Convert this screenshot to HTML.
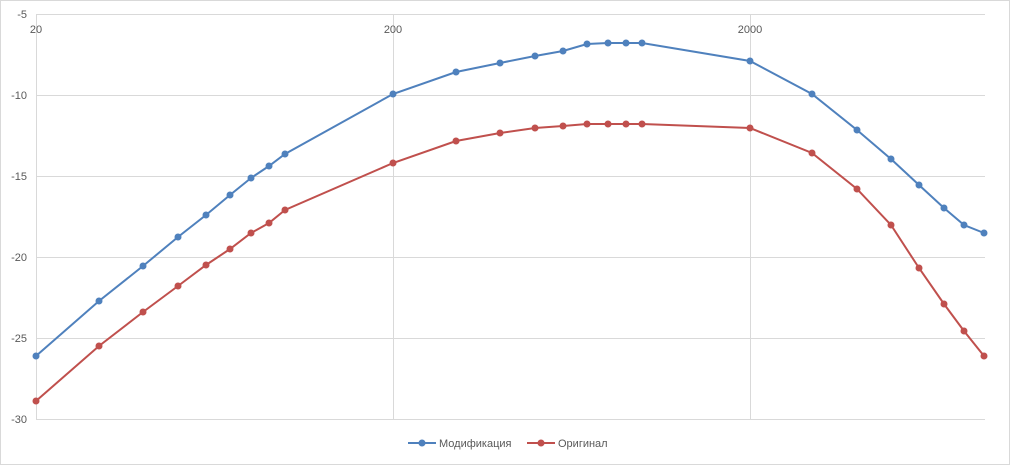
<!DOCTYPE html>
<html><head><meta charset="utf-8"><style>
html,body{margin:0;padding:0;background:#fff;}
svg{display:block;font-family:"Liberation Sans",sans-serif;}
</style></head><body>
<svg width="1010" height="465" viewBox="0 0 1010 465">
<rect x="0.5" y="0.5" width="1009" height="464" fill="#fff" stroke="#d9d9d9"/>
<g stroke="#d9d9d9" stroke-width="1">
<line x1="36" y1="14.5" x2="985" y2="14.5"/>
<line x1="36" y1="95.5" x2="985" y2="95.5"/>
<line x1="36" y1="176.5" x2="985" y2="176.5"/>
<line x1="36" y1="257.5" x2="985" y2="257.5"/>
<line x1="36" y1="338.5" x2="985" y2="338.5"/>
<line x1="36" y1="419.5" x2="985" y2="419.5"/>
<line x1="36.5" y1="14" x2="36.5" y2="419"/>
<line x1="393.5" y1="14" x2="393.5" y2="419"/>
<line x1="750.5" y1="14" x2="750.5" y2="419"/>
</g>
<g font-size="11" fill="#595959">
<text x="36" y="33" text-anchor="middle">20</text>
<text x="393" y="33" text-anchor="middle">200</text>
<text x="750" y="33" text-anchor="middle">2000</text>
<g text-anchor="end">
<text x="27" y="18">-5</text>
<text x="27" y="99">-10</text>
<text x="27" y="180">-15</text>
<text x="27" y="261">-20</text>
<text x="27" y="342">-25</text>
<text x="27" y="423">-30</text>
</g>
</g>
<polyline fill="none" stroke="#4f81bd" stroke-width="2" points="36,356 99,301 143,266 178,237 206,215 230,195 251,178 269,166 285,154 393,94 456,72 500,63 535,56 563,51 587,44 608,43 626,43 642,43 750,61 812,94 857,130 891,159 919,185 944,208 964,225 984,233"/>
<polyline fill="none" stroke="#c0504d" stroke-width="2" points="36,401 99,346 143,312 178,286 206,265 230,249 251,233 269,223 285,210 393,163 456,141 500,133 535,128 563,126 587,124 608,124 626,124 642,124 750,128 812,153 857,189 891,225 919,268 944,304 964,331 984,356"/>
<g fill="#4f81bd">
<circle cx="36" cy="356" r="3.5"/><circle cx="99" cy="301" r="3.5"/><circle cx="143" cy="266" r="3.5"/><circle cx="178" cy="237" r="3.5"/><circle cx="206" cy="215" r="3.5"/><circle cx="230" cy="195" r="3.5"/><circle cx="251" cy="178" r="3.5"/><circle cx="269" cy="166" r="3.5"/><circle cx="285" cy="154" r="3.5"/><circle cx="393" cy="94" r="3.5"/><circle cx="456" cy="72" r="3.5"/><circle cx="500" cy="63" r="3.5"/><circle cx="535" cy="56" r="3.5"/><circle cx="563" cy="51" r="3.5"/><circle cx="587" cy="44" r="3.5"/><circle cx="608" cy="43" r="3.5"/><circle cx="626" cy="43" r="3.5"/><circle cx="642" cy="43" r="3.5"/><circle cx="750" cy="61" r="3.5"/><circle cx="812" cy="94" r="3.5"/><circle cx="857" cy="130" r="3.5"/><circle cx="891" cy="159" r="3.5"/><circle cx="919" cy="185" r="3.5"/><circle cx="944" cy="208" r="3.5"/><circle cx="964" cy="225" r="3.5"/><circle cx="984" cy="233" r="3.5"/>
</g>
<g fill="#c0504d">
<circle cx="36" cy="401" r="3.5"/><circle cx="99" cy="346" r="3.5"/><circle cx="143" cy="312" r="3.5"/><circle cx="178" cy="286" r="3.5"/><circle cx="206" cy="265" r="3.5"/><circle cx="230" cy="249" r="3.5"/><circle cx="251" cy="233" r="3.5"/><circle cx="269" cy="223" r="3.5"/><circle cx="285" cy="210" r="3.5"/><circle cx="393" cy="163" r="3.5"/><circle cx="456" cy="141" r="3.5"/><circle cx="500" cy="133" r="3.5"/><circle cx="535" cy="128" r="3.5"/><circle cx="563" cy="126" r="3.5"/><circle cx="587" cy="124" r="3.5"/><circle cx="608" cy="124" r="3.5"/><circle cx="626" cy="124" r="3.5"/><circle cx="642" cy="124" r="3.5"/><circle cx="750" cy="128" r="3.5"/><circle cx="812" cy="153" r="3.5"/><circle cx="857" cy="189" r="3.5"/><circle cx="891" cy="225" r="3.5"/><circle cx="919" cy="268" r="3.5"/><circle cx="944" cy="304" r="3.5"/><circle cx="964" cy="331" r="3.5"/><circle cx="984" cy="356" r="3.5"/>
</g>
<g font-size="11" fill="#595959">
<line x1="408" y1="443" x2="436" y2="443" stroke="#4f81bd" stroke-width="2"/><circle cx="422" cy="443" r="3.5" fill="#4f81bd"/>
<text x="439" y="447">Модификация</text>
<line x1="527" y1="443" x2="555" y2="443" stroke="#c0504d" stroke-width="2"/><circle cx="541" cy="443" r="3.5" fill="#c0504d"/>
<text x="558" y="447">Оригинал</text>
</g>
</svg>
</body></html>
